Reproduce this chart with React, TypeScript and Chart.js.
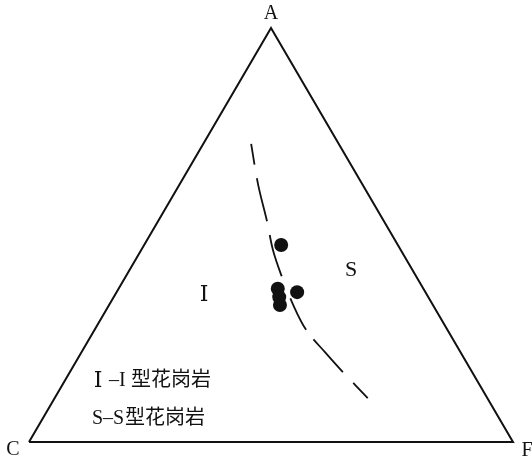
import React, { useEffect, useRef } from "react";
import { Chart, registerables } from "chart.js";

Chart.register(...registerables);

// Sample compositions (ternary %, A + C + F = 100)
const SAMPLE_A = [47.6, 37.0, 35.0, 33.1, 36.2];
const SAMPLE_C = [24.1, 30.1, 30.8, 31.6, 26.5];
const SAMPLE_F = [28.3, 32.9, 34.2, 35.3, 37.3];

// I / S boundary (dashed curve), ternary %
const BOUND_A = [72.0, 62.1, 53.2, 46.4, 39.9, 33.6, 27.1, 21.7, 16.9, 10.6];
const BOUND_F = [9.9, 16.3, 22.6, 27.2, 32.3, 37.6, 43.7, 50.3, 56.4, 64.7];

// Triangle vertices: C, F, A, C
const TRI_A = [0, 0, 100, 0];
const TRI_F = [0, 100, 0, 0];

const VERTEX_LABELS = ["A", "C", "F"];
const REGION_LABELS = ["Ⅰ", "S"];
const LEGEND_CODES = ["Ⅰ", "S"];
const LEGEND_TYPES = ["–I型花岗岩", "–S型花岗岩"];

const SQ = Math.sqrt(3) / 2;
const toXY = (a: number, f: number) => ({ x: f + a / 2, y: a * SQ });

const SERIF = '"Liberation Serif", "DejaVu Serif", "Noto Sans CJK SC", serif';

const labelPlugin = {
  id: "ternaryLabels",
  afterDraw(chart: any) {
    const ctx = chart.ctx;
    const xs = chart.scales.x;
    const ys = chart.scales.y;
    const px = (a: number, f: number) => {
      const p = toXY(a, f);
      return [xs.getPixelForValue(p.x), ys.getPixelForValue(p.y)];
    };
    ctx.save();
    ctx.fillStyle = "#111";
    ctx.textBaseline = "middle";
    ctx.textAlign = "center";
    ctx.font = `20px ${SERIF}`;
    const [ax, ay] = px(100, 0);
    ctx.fillText(VERTEX_LABELS[0], ax, ay - 14);
    const [cx, cy] = px(0, 0);
    ctx.fillText(VERTEX_LABELS[1], cx - 16, cy + 8);
    const [fx, fy] = px(0, 100);
    ctx.fillText(VERTEX_LABELS[2], fx + 14, fy + 9);

    ctx.font = `22px ${SERIF}`;
    const [ix, iy] = px(35.4, 18.5);
    ctx.fillText(REGION_LABELS[0], ix, iy);
    const [sx, sy] = px(41.5, 45.8);
    ctx.fillText(REGION_LABELS[1], sx, sy);

    // legend: code letter, then "–X型花岗岩"
    ctx.textAlign = "center";
    ctx.font = `22px ${SERIF}`;
    ctx.fillText(LEGEND_CODES[0], cx + 69, cy - 61);
    ctx.font = `20px ${SERIF}`;
    ctx.textAlign = "left";
    ctx.fillText(LEGEND_CODES[1], cx + 63, cy - 23);
    const dashText = (t: string, x: number, y: number, gap: number) => {
      ctx.fillText(t.slice(0, 2), x, y);
      ctx.fillText(t.slice(2), x + gap, y);
    };
    dashText(LEGEND_TYPES[0], cx + 80, cy - 61, 22);
    dashText(LEGEND_TYPES[1], cx + 74, cy - 23, 22);
    ctx.restore();
  },
};

export default function App() {
  const ref = useRef<HTMLCanvasElement | null>(null);

  useEffect(() => {
    if (!ref.current) return;
    const triangle = TRI_A.map((a, i) => toXY(a, TRI_F[i]));
    const boundary = BOUND_A.map((a, i) => toXY(a, BOUND_F[i]));
    const samples = SAMPLE_A.map((a, i) => toXY(a, SAMPLE_F[i]));

    const chart = new Chart(ref.current, {
      type: "scatter",
      data: {
        datasets: [
          {
            data: triangle,
            showLine: true,
            borderColor: "#111",
            borderWidth: 2,
            pointRadius: 0,
            fill: false,
            clip: false,
          } as any,
          {
            data: boundary,
            showLine: true,
            borderColor: "#111",
            borderWidth: 1.8,
            borderDash: [21, 14, 44, 14, 43, 24, 35, 12, 44, 15, 21, 30],
            tension: 0.35,
            pointRadius: 0,
            fill: false,
            clip: false,
          } as any,
          {
            data: samples,
            pointRadius: 7,
            pointBackgroundColor: "#111",
            pointBorderColor: "#111",
            pointBorderWidth: 0,
            clip: false,
          } as any,
        ],
      },
      options: {
        animation: false,
        responsive: false,
        layout: { padding: { left: 29, right: 19, top: 28, bottom: 18 } },
        scales: {
          x: { type: "linear", min: 0, max: 100, display: false },
          y: { type: "linear", min: 0, max: 100 * SQ, display: false },
        },
        plugins: {
          legend: { display: false },
          tooltip: { enabled: false },
        },
      },
      plugins: [labelPlugin],
    });
    return () => chart.destroy();
  }, []);

  return (
    <div style={{ position: "absolute", left: 0, top: 0, width: 532, height: 460, background: "#fff" }}>
      <canvas ref={ref} width={532} height={460} style={{ width: 532, height: 460 }} />
    </div>
  );
}
